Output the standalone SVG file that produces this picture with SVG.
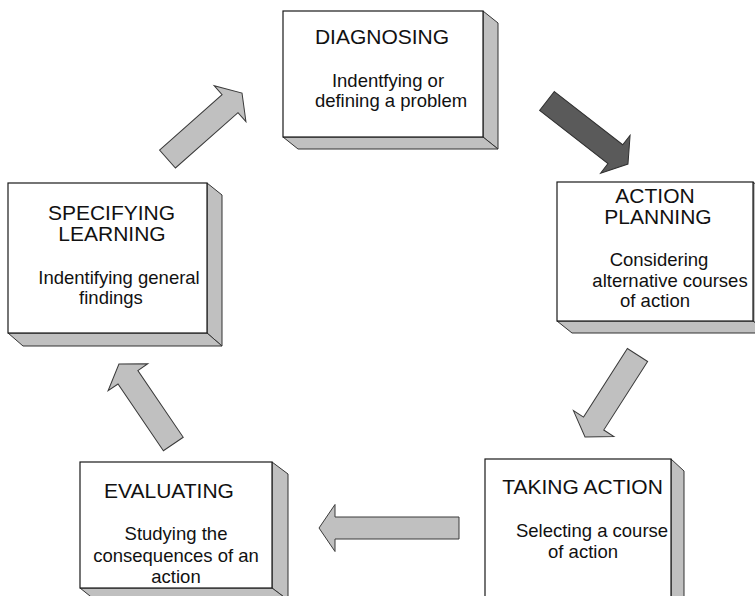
<svg xmlns="http://www.w3.org/2000/svg" width="755" height="596" viewBox="0 0 755 596">
<style>
.front{fill:#ffffff;stroke:#1a1a1a;stroke-width:1.2}
.side{fill:#c0c0c0;stroke:#333333;stroke-width:1}
.arrow{fill:#c0c0c0;stroke:#3a3a3a;stroke-width:1}
.dark{fill:#5a5a5a;stroke:#303030;stroke-width:1}
text{font-family:"Liberation Sans",Arial,sans-serif;fill:#111111;text-anchor:middle}
.h{font-size:21px}
.s{font-size:18.5px}
</style>
<rect width="755" height="596" fill="#ffffff"/>
<g id="connectors">
<polygon class="dark" transform="translate(547,101) rotate(37.9)" points="0,-12 86.6,-12 86.6,-24 102.6,0 86.6,24 86.6,12 0,12"/>
<polygon class="arrow" transform="translate(637.5,355) rotate(122.6)" points="0,-12 81.4,-12 81.4,-24 97.4,0 81.4,24 81.4,12 0,12"/>
<polygon class="arrow" transform="translate(459,528) rotate(180)" points="0,-11 124,-11 124,-23.5 140,0 124,23.5 124,11 0,11"/>
<polygon class="arrow" transform="translate(173.3,444) rotate(-124.2)" points="0,-12 80.7,-12 80.7,-24 96.7,0 80.7,24 80.7,12 0,12"/>
<polygon class="arrow" transform="translate(167.5,159) rotate(-41.5)" points="0,-12 83.5,-12 83.5,-24 99.5,0 83.5,24 83.5,12 0,12"/>
</g>
<g id="diagnosing">
<polygon class="side" points="483,11 498,23 498,149 483,137"/>
<polygon class="side" points="283,137 483,137 498,149 298,149"/>
<rect class="front" x="283" y="11" width="200" height="126"/>
<text class="h" x="382" y="44">DIAGNOSING</text>
<text class="s" x="388" y="87">Indentfying or</text>
<text class="s" x="391" y="107">defining a problem</text>
</g>
<g id="action-planning">
<polygon class="side" points="753,182 768,194 768,333 753,321"/>
<polygon class="side" points="557,321 753,321 768,333 572,333"/>
<rect class="front" x="557" y="182" width="196" height="139"/>
<text class="h" x="655" y="203">ACTION</text>
<text class="h" x="658" y="224">PLANNING</text>
<text class="s" x="659" y="266">Considering</text>
<text class="s" x="670" y="287">alternative courses</text>
<text class="s" x="655" y="307">of action</text>
</g>
<g id="specifying-learning">
<polygon class="side" points="207,183 222,195 222,346 207,333"/>
<polygon class="side" points="8,333 207,333 222,346 23,346"/>
<rect class="front" x="8" y="183" width="199" height="150"/>
<text class="h" x="111.5" y="220">SPECIFYING</text>
<text class="h" x="112" y="241">LEARNING</text>
<text class="s" x="119" y="284">Indentifying general</text>
<text class="s" x="111" y="304">findings</text>
</g>
<g id="taking-action">
<polygon class="side" points="671,459 684,471 684,610 671,600"/>
<rect class="front" x="485" y="459" width="186" height="141"/>
<text class="h" x="582.5" y="494">TAKING ACTION</text>
<text class="s" x="592" y="537">Selecting a course</text>
<text class="s" x="583" y="558">of action</text>
</g>
<g id="evaluating">
<polygon class="side" points="272,462 288,474 288,600 272,588"/>
<polygon class="side" points="80,588 272,588 288,600 95,600"/>
<rect class="front" x="80" y="462" width="192" height="126"/>
<text class="h" x="169" y="498">EVALUATING</text>
<text class="s" x="176" y="540">Studying the</text>
<text class="s" x="176" y="562">consequences of an</text>
<text class="s" x="176" y="583">action</text>
</g>
</svg>
